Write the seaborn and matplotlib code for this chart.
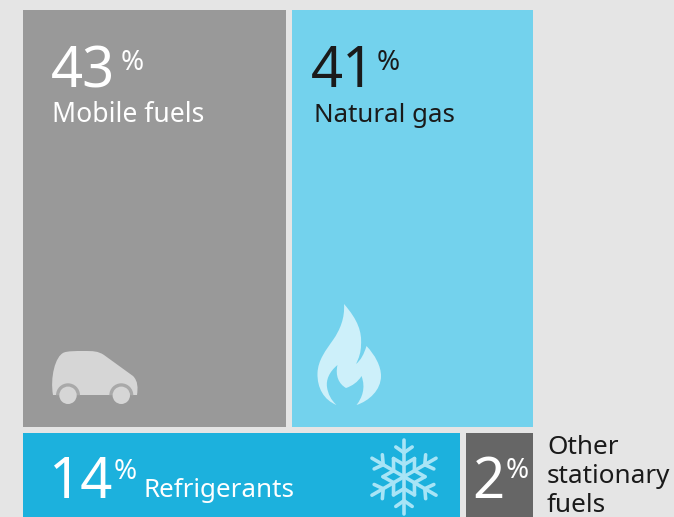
import numpy as np
import matplotlib
matplotlib.use("Agg")
import matplotlib.pyplot as plt
from matplotlib.path import Path
from matplotlib.patches import PathPatch, Circle, Wedge
import seaborn as sns

categories = ["Mobile fuels", "Natural gas", "Refrigerants", "Other stationary fuels"]
tile_areas = [43.0, 39.5, 15.1, 2.5]
percent_labels = ["43", "41", "14", "2"]
row_of_tile = [0, 0, 1, 1]
tile_colors = ["#999999", "#73d2ed", "#1cb1dd", "#666666"]
background = "#e5e5e5"

sns.set_theme(style="white", rc={"figure.facecolor": background, "axes.facecolor": background})
plt.rcParams["font.family"] = ["Noto Sans", "DejaVu Sans"]

W, H, DPI = 674, 517, 100
fig = plt.figure(figsize=(W / DPI, H / DPI), dpi=DPI)

# Treemap axes: gutters come from the tile edges, so it overhangs by half a gutter
GAP = 6
L, R, T, B = 20, 536, 7, 520
ax = fig.add_axes([L / W, 1 - B / H, (R - L) / W, (B - T) / H])
ax.set_xlim(0, 1)
ax.set_ylim(1, 0)
ax.axis("off")
areas = np.array(tile_areas)
rows = np.array(row_of_tile)
palette = sns.color_palette(tile_colors)
y0 = 0.0
for r in np.unique(rows):
    idx = np.where(rows == r)[0]
    height = areas[idx].sum() / areas.sum()
    x0 = 0.0
    for i in idx:
        width = areas[i] / areas[idx].sum()
        ax.bar(x0, height, width=width, bottom=y0, align="edge", color=palette[i],
               edgecolor=background, linewidth=GAP * 72 / DPI, joinstyle="miter", clip_on=False)
        x0 += width
    y0 += height

# Overlay in pixel coordinates for labels and pictograms
ov = fig.add_axes([0, 0, 1, 1], facecolor="none")
ov.set_xlim(0, W)
ov.set_ylim(H, 0)
ov.axis("off")

BIG, PCT = 40.5, 20
WHITE, INK = "#ffffff", "#1a1a1a"

def t(x, y, s, size, color, **kw):
    ov.text(x, y, s, fontsize=size, color=color, va="baseline", ha="left", **kw)

t(51, 87, percent_labels[0], BIG, WHITE, fontweight="light")
t(121, 70, "%", PCT, WHITE, fontweight="light")
t(52, 122, categories[0], 19.1, WHITE, fontweight="light")

t(311, 87, percent_labels[1], BIG, INK, fontweight="light")
t(377, 70, "%", PCT, INK, fontweight="light")
t(314, 122, categories[1], 18.6, INK)

t(49, 498, percent_labels[2], BIG, WHITE, fontweight="light")
t(114, 479, "%", PCT, WHITE, fontweight="light")
t(144, 497, categories[2], 18.7, WHITE, fontweight="light")

t(472, 498, percent_labels[3], BIG, WHITE, fontweight="light")
t(506, 478, "%", PCT, WHITE, fontweight="light")

for yy, line in zip((454, 483, 512), ("Other", "stationary", "fuels")):
    t(547, yy, line, 18.8, INK)

# Car pictogram
CAR = "#d6d6d6"
car_v = [(53, 395), (50, 378), (55, 356), (64, 352.5), (68, 351), (75, 351), (84, 351),
         (93, 351), (98, 351), (104, 355), (133, 376), (138, 381), (138, 388), (137, 395),
         (53, 395)]
car_c = [Path.MOVETO, Path.CURVE4, Path.CURVE4, Path.CURVE4, Path.CURVE4, Path.CURVE4, Path.CURVE4,
         Path.CURVE4, Path.CURVE4, Path.CURVE4, Path.LINETO, Path.CURVE4, Path.CURVE4, Path.CURVE4,
         Path.CLOSEPOLY]
ov.add_patch(PathPatch(Path(car_v, car_c), fc=CAR, ec="none"))
for cx in (68, 121.3):
    ov.add_patch(Wedge((cx, 395.3), 12, 180, 360, fc="#a9a9a9", ec="none", zorder=2))
    ov.add_patch(Circle((cx, 395.3), 8.7, fc=CAR, ec="none", zorder=3))

# Flame pictogram
fl = [(344, 304),
      (358, 320), (362, 332), (361, 345),
      (361, 352), (359, 358), (356, 364),
      (361, 360), (364, 354), (366.5, 346),
      (375, 355), (381, 366), (381, 376),
      (381, 390), (369, 401), (356.5, 405),
      (362, 398), (366, 388), (361.5, 376),
      (358, 382), (352, 386), (346, 388),
      (339, 384), (335, 376), (337.5, 365),
      (329, 372), (326, 380), (327, 387),
      (328, 394), (331, 400), (336.5, 405),
      (324, 400), (317, 388), (317.5, 373),
      (318, 360), (326, 350), (333, 340),
      (340, 330), (345, 318), (344, 304)]
fl_c = [Path.MOVETO] + [Path.CURVE4] * (len(fl) - 1)
ov.add_patch(PathPatch(Path(fl, fl_c), fc="#cdf0fa", ec="none"))

# Snowflake pictogram
SNOW = "#a8e4f6"
c = np.array([404.0, 476.7])
lw = 3.6 * 72 / DPI
def pol(ang, rad):
    return c + rad * np.array([np.sin(ang), -np.cos(ang)])
def seg(a, b):
    ov.plot([a[0], b[0]], [a[1], b[1]], color=SNOW, lw=lw, solid_capstyle="round")
for k in range(6):
    a = k * np.pi / 3
    seg(c, pol(a, 37))
    tip = pol(a, 24)
    for s in (-1, 1):
        d = a + s * np.radians(55)
        seg(tip, tip + 10 * np.array([np.sin(d), -np.cos(d)]))
    seg(pol(a, 12), pol(a + np.pi / 6, 21))
    seg(pol(a + np.pi / 6, 21), pol(a + np.pi / 3, 12))

fig.savefig("out.png", dpi=DPI, facecolor=background)
